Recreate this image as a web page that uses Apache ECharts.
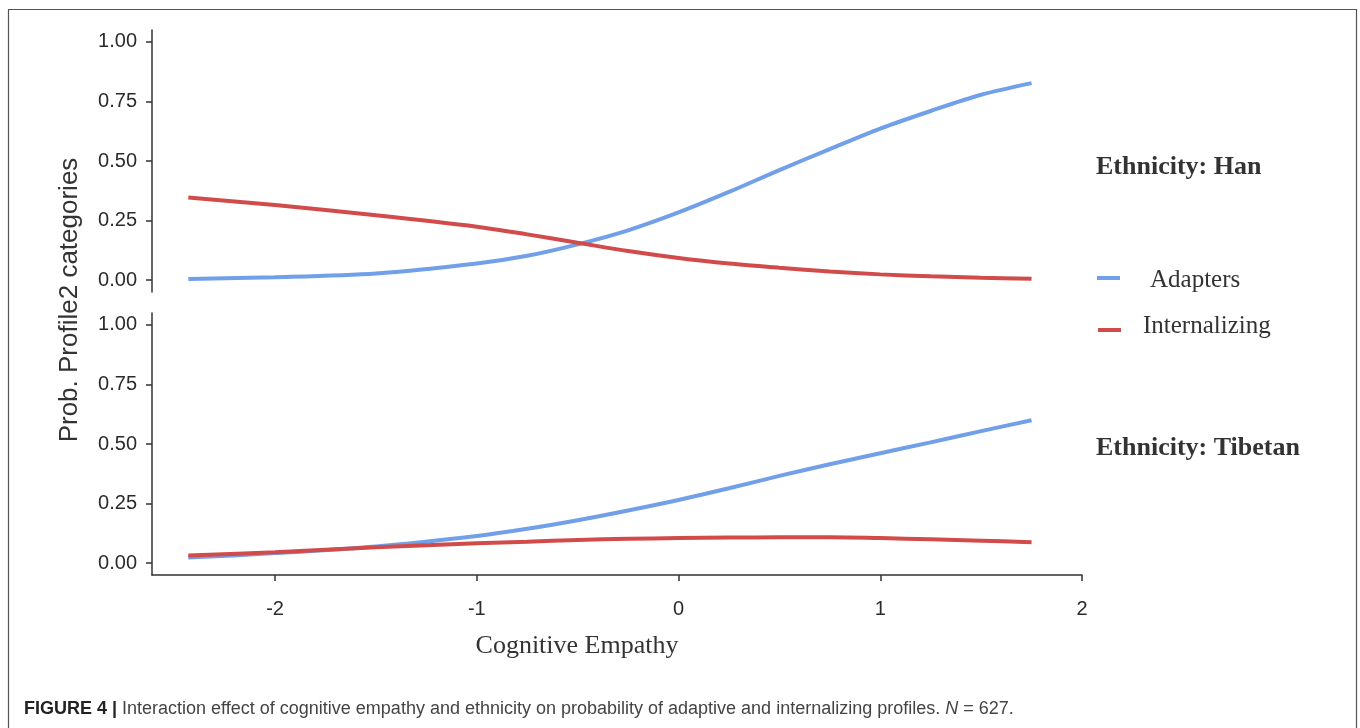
<!DOCTYPE html>
<html>
<head>
<meta charset="utf-8">
<title>Cognitive empathy x ethnicity</title>
<script src="https://cdn.jsdelivr.net/npm/echarts@6/dist/echarts.min.js"></script>
<style>
  html, body { margin: 0; padding: 0; background: #fff; }
  #chart { width: 1360px; height: 728px; }
</style>
</head>
<body>
<div id="chart"></div>
<script>
// cognitive empathy values (x) at which the curves were read
var empathy = [-2.43, -2, -1.5, -1, -0.75, -0.5, -0.25, 0, 0.25, 0.5, 0.75, 1, 1.25, 1.5, 1.75]

// Ethnicity: Han
var hanAdapters = [0.005, 0.012, 0.028, 0.070, 0.102, 0.150, 0.209, 0.284, 0.370, 0.462, 0.550, 0.636, 0.710, 0.778, 0.827]
var hanInternalizing = [0.347, 0.315, 0.272, 0.224, 0.192, 0.157, 0.122, 0.093, 0.070, 0.052, 0.036, 0.024, 0.016, 0.010, 0.006]

// Ethnicity: Tibetan
var tibAdapters = [0.023, 0.042, 0.070, 0.114, 0.144, 0.180, 0.221, 0.265, 0.314, 0.366, 0.415, 0.461, 0.507, 0.554, 0.600]
var tibInternalizing = [0.032, 0.046, 0.066, 0.083, 0.090, 0.097, 0.102, 0.105, 0.107, 0.108, 0.108, 0.105, 0.100, 0.094, 0.088]

var xTicks = [-2, -1, 0, 1, 2]
var yTicks = [0, 0.25, 0.5, 0.75, 1]

var colors = ['#719fe8', '#d24b4b']
var axisColor = '#333'
var sans = '"Liberation Sans", Arial, sans-serif'
var serif = '"Liberation Serif", "Times New Roman", serif'

function pairs(xs, ys) {
  return xs.map(function (x, i) { return [x, ys[i]] })
}

function yAxisFor(grid) {
  return {
    type: 'value',
    gridIndex: grid,
    min: -0.05,
    max: 1.05,
    splitLine: { show: false },
    axisLine: { show: true, onZero: false, lineStyle: { color: axisColor, width: 1.5 } },
    axisTick: { show: true, length: 6, customValues: yTicks, lineStyle: { color: axisColor, width: 1.5 } },
    axisLabel: {
      customValues: yTicks,
      margin: 15,
      fontSize: 20,
      fontFamily: sans,
      color: '#2b2b2b',
      formatter: function (v) { return v.toFixed(2) }
    }
  }
}

function lineSeries(name, grid, data, color) {
  return {
    name: name,
    type: 'line',
    xAxisIndex: grid,
    yAxisIndex: grid,
    smooth: 0.3,
    symbol: 'none',
    lineStyle: { color: color, width: 4 },
    data: pairs(empathy, data)
  }
}

var chart = echarts.init(document.getElementById('chart'))

var option = {
  animation: false,
  backgroundColor: '#fff',
  grid: [
    { left: 152, top: 30, width: 930, height: 262 },
    { left: 152, top: 313, width: 930, height: 262 }
  ],
  xAxis: [
    {
      type: 'value',
      gridIndex: 0,
      min: -2.61,
      max: 2,
      show: false
    },
    {
      type: 'value',
      gridIndex: 1,
      min: -2.61,
      max: 2,
      splitLine: { show: false },
      axisLine: { show: true, onZero: false, lineStyle: { color: axisColor, width: 1.5 } },
      axisTick: { show: true, length: 6, customValues: xTicks, lineStyle: { color: axisColor, width: 1.5 } },
      axisLabel: {
        customValues: xTicks,
        margin: 24,
        fontSize: 20,
        fontFamily: sans,
        color: '#2b2b2b'
      }
    }
  ],
  yAxis: [yAxisFor(0), yAxisFor(1)],
  series: [
    lineSeries('Adapters', 0, hanAdapters, colors[0]),
    lineSeries('Internalizing', 0, hanInternalizing, colors[1]),
    lineSeries('Adapters', 1, tibAdapters, colors[0]),
    lineSeries('Internalizing', 1, tibInternalizing, colors[1])
  ],
  graphic: [
    // figure frame
    {
      type: 'rect',
      shape: { x: 8.5, y: 9.5, width: 1348, height: 740 },
      style: { fill: 'none', stroke: '#555', lineWidth: 1.2 },
      silent: true
    },
    // y axis title
    {
      type: 'text',
      x: 70,
      y: 300,
      rotation: Math.PI / 2,
      style: {
        text: 'Prob. Profile2 categories',
        font: '26px ' + sans,
        fill: '#333',
        align: 'center',
        verticalAlign: 'middle'
      }
    },
    // x axis title
    {
      type: 'text',
      x: 577,
      y: 646,
      style: {
        text: 'Cognitive Empathy',
        font: '26px ' + serif,
        fill: '#333',
        align: 'center',
        verticalAlign: 'middle'
      }
    },
    // panel labels
    {
      type: 'text',
      x: 1096,
      y: 167,
      style: { text: 'Ethnicity: Han', font: 'bold 26px ' + serif, fill: '#333', verticalAlign: 'middle' }
    },
    {
      type: 'text',
      x: 1096,
      y: 448,
      style: { text: 'Ethnicity: Tibetan', font: 'bold 26px ' + serif, fill: '#333', verticalAlign: 'middle' }
    },
    // legend
    {
      type: 'line',
      shape: { x1: 1097, y1: 278, x2: 1120, y2: 278 },
      style: { stroke: colors[0], lineWidth: 4 }
    },
    {
      type: 'text',
      x: 1150,
      y: 280,
      style: { text: 'Adapters', font: '25px ' + serif, fill: '#333', verticalAlign: 'middle' }
    },
    {
      type: 'line',
      shape: { x1: 1098, y1: 330, x2: 1121, y2: 330 },
      style: { stroke: colors[1], lineWidth: 4 }
    },
    {
      type: 'text',
      x: 1143,
      y: 326,
      style: { text: 'Internalizing', font: '25px ' + serif, fill: '#333', verticalAlign: 'middle' }
    },
    // caption
    {
      type: 'text',
      x: 24,
      y: 709,
      style: {
        text: '{b|FIGURE 4 |} Interaction effect of cognitive empathy and ethnicity on probability of adaptive and internalizing profiles. {i|N} = 627.',
        font: '18px ' + sans,
        fill: '#444',
        verticalAlign: 'middle',
        rich: {
          b: { font: 'bold 18px ' + sans, fill: '#222' },
          i: { font: 'italic 18px ' + sans, fill: '#444' }
        }
      }
    }
  ]
}

chart.setOption(option)
</script>
</body>
</html>
